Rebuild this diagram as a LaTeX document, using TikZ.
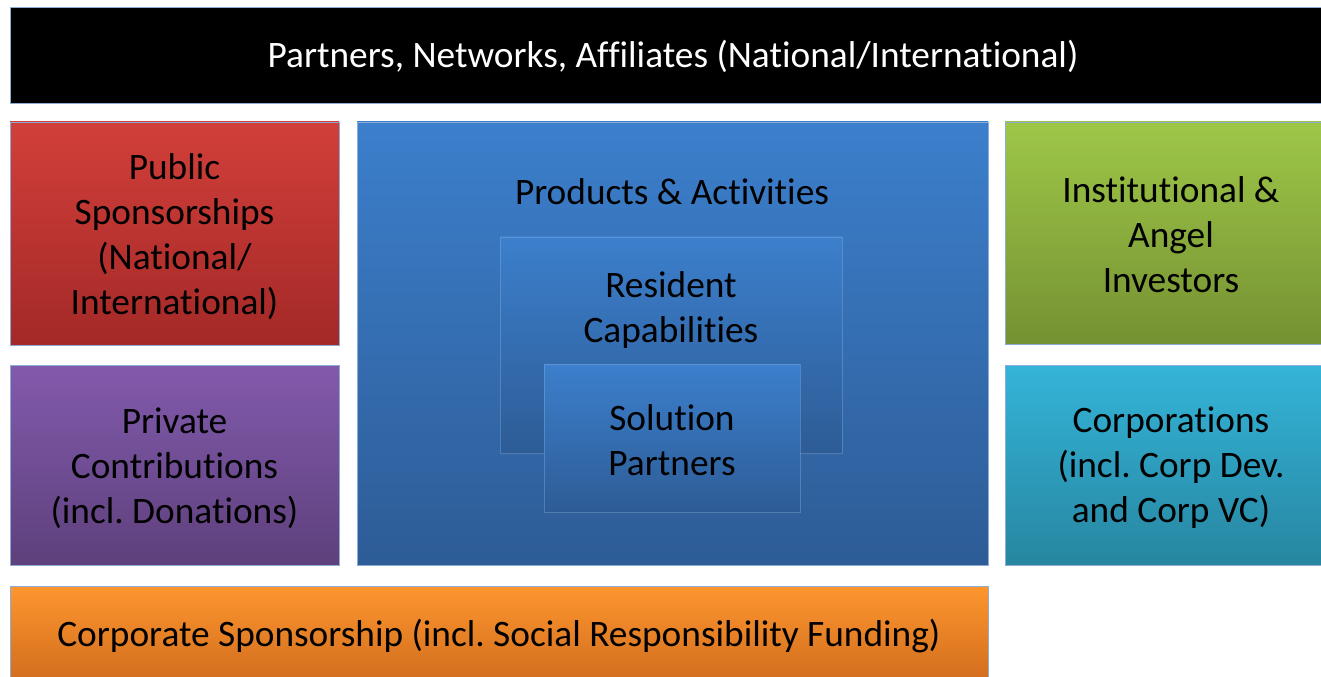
\documentclass[tikz,border=0pt]{standalone}
\usepackage{fontspec}
\setmainfont[Ligatures=NoCommon]{Carlito}
\frenchspacing
\definecolor{bordc}{RGB}{140,172,214}
\definecolor{redT}{RGB}{210,63,58}
\definecolor{redB}{RGB}{163,41,39}
\definecolor{purT}{RGB}{130,90,172}
\definecolor{purB}{RGB}{94,64,124}
\definecolor{bluT}{RGB}{60,127,204}
\definecolor{bluB}{RGB}{45,92,150}
\definecolor{grnT}{RGB}{158,199,72}
\definecolor{grnB}{RGB}{117,145,50}
\definecolor{cyaT}{RGB}{52,180,217}
\definecolor{cyaB}{RGB}{39,134,160}
\definecolor{orgT}{RGB}{253,150,46}
\definecolor{orgB}{RGB}{208,108,30}
\definecolor{innB}{RGB}{150,185,225}
\tikzset{
  box/.style={draw=bordc, line width=0.7pt, rectangle, inner sep=0pt},
  txt/.style={align=center, font=\fontsize{28}{33.75}\selectfont\frenchspacing, text=black},
  inner/.style={draw=innB, draw opacity=0.35, line width=0.7pt, rectangle, inner sep=0pt, top color=bluT, bottom color=bluB}
}
\begin{document}
\begin{tikzpicture}[x=0.75pt,y=-0.75pt]
\useasboundingbox (0,0) rectangle (1321,677);
\clip (0,0) rectangle (1321,677);
\fill[white] (0,0) rectangle (1321,677);
% top bar
\node[box, fill=black, minimum width=994.5pt, minimum height=72pt] (top) at (673,55) {};
\node[txt, text=white] (toptxt) at (673,56) {Partners, Networks, Affiliates (National/International)};
% left column
\node[box, top color=redT, bottom color=redB, minimum width=246.75pt, minimum height=167.25pt] (pub) at (174.5,233.5) {};
\node[txt] (pubtxt) at (174.5,236.5) {Public\\Sponsorships\\(National/\\International)};
\node[box, top color=purT, bottom color=purB, minimum width=246.75pt, minimum height=150pt] (priv) at (174.5,465) {};
\node[txt] (privtxt) at (174.5,468) {Private\\Contributions\\(incl. Donations)};
% centre
\node[box, top color=bluT, bottom color=bluB, minimum width=473.25pt, minimum height=332.25pt] (prod) at (672.5,343.5) {};
\node[txt] (prodtxt) at (672,192) {Products \& Activities};
\node[inner, minimum width=256.5pt, minimum height=162pt] (res) at (671,345) {};
\node[txt] (restxt) at (671,310.5) {Resident\\Capabilities};
\node[inner, minimum width=192pt, minimum height=111pt] (sol) at (672,438) {};
\node[txt] (soltxt) at (672,440) {Solution\\Partners};
% right column
\node[box, top color=grnT, bottom color=grnB, minimum width=249pt, minimum height=166.5pt] (inst) at (1171,233) {};
\node[txt] (insttxt) at (1171,235) {Institutional \&\\Angel\\Investors};
\node[box, top color=cyaT, bottom color=cyaB, minimum width=249pt, minimum height=150pt] (corp) at (1171,465) {};
\node[txt] (corptxt) at (1171,468) {Corporations\\(incl. Corp Dev.\\and Corp VC)};
% bottom
\node[box, top color=orgT, bottom color=orgB, minimum width=733.5pt, minimum height=73.5pt] (spons) at (499,635) {};
\node[txt] (sponstxt) at (499,636.5) {Corporate Sponsorship (incl. Social Responsibility Funding)};
\end{tikzpicture}
\end{document}
